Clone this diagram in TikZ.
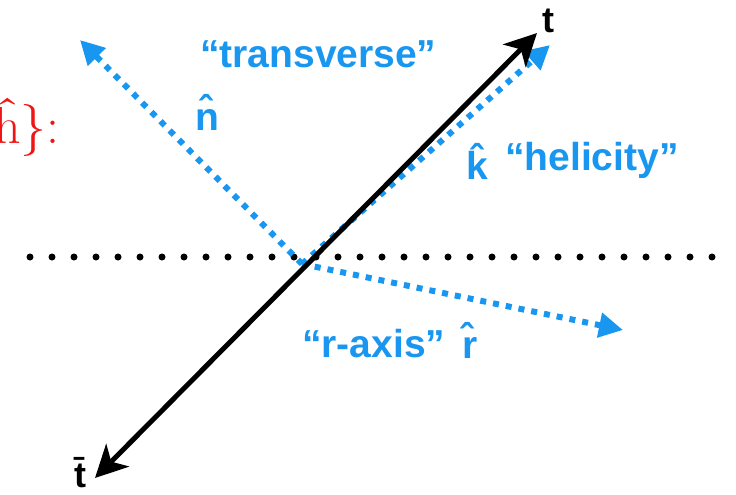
\documentclass[tikz,border=0pt]{standalone}
\usepackage{fontspec}
\setsansfont{Liberation Sans}
\usepackage{tikz}
\usetikzlibrary{
  arrows.meta,
  positioning,
  calc
}
\definecolor{AxisBlue}{RGB}{24,150,240}
\definecolor{NoteRed}{RGB}{240,20,20}
\tikzset{
  topline/.style={line width=5pt,draw=black,{Stealth[length=32pt,width=32pt,inset=9pt]}-{Stealth[length=32pt,width=32pt,inset=9pt]}},
  frameaxis/.style={line width=6pt,draw=AxisBlue,dash pattern=on 6pt off 7pt,-{Triangle[length=24pt,width=24pt]}},
  planedots/.style={line width=7pt,draw=black,dash pattern=on 0pt off 22pt,line cap=round},
  axislabel/.style={font=\sffamily\bfseries\fontsize{39}{42}\selectfont,text=AxisBlue,inner sep=0pt},
  toplabel/.style={font=\sffamily\bfseries\fontsize{36}{40}\selectfont,text=black,inner sep=0pt}
}
\begin{document}
\begin{tikzpicture}[x=1pt,y=-1pt]
  \useasboundingbox (0,0) rectangle (736,495);
  \clip (0,0) rectangle (736,495);

  \coordinate (o) at (302,264);
  \coordinate (tbar) at (95,478);
  \coordinate (ttip) at (537,33);

  % event plane
  \coordinate (pl) at (30,257);
  \coordinate (pr) at (730,257);
  \draw[planedots] (pl) -- (pr);

  % spin quantisation axes
  \coordinate (nhat) at (80,40);
  \coordinate (khat) at (550,45);
  \coordinate (rhat) at (623,330);
  \draw[frameaxis] (o) -- (nhat);
  \draw[frameaxis] (o) -- (khat);
  \draw[frameaxis] (o) -- (rhat);

  % top quark direction
  \draw[topline] (tbar) -- (ttip);

  \node[toplabel, anchor=base] (tlab) at (548,33) {t};
  \node[toplabel, anchor=base] (tbarlab) at (80,487) {\={t}};

  \node[axislabel, anchor=base west] (trans) at (200,67) {``transverse''};
  \node[axislabel, anchor=base] (nlab) at (207,130) {\^{n}};
  \node[axislabel, anchor=base] (klab) at (477,179) {\^{k}};
  \node[axislabel, anchor=base west] (heli) at (505,170) {``helicity''};
  \node[axislabel, anchor=base west] (raxis) at (302,357) {``r-axis''};
  \node[axislabel, anchor=base] (rlab) at (470,358) {\^{r}};

  \node[text=NoteRed, anchor=base east, inner sep=0pt, font=\rmfamily\fontsize{52}{56}\selectfont] (note) at (60,143) {\^{h}\}:};
\end{tikzpicture}
\end{document}
